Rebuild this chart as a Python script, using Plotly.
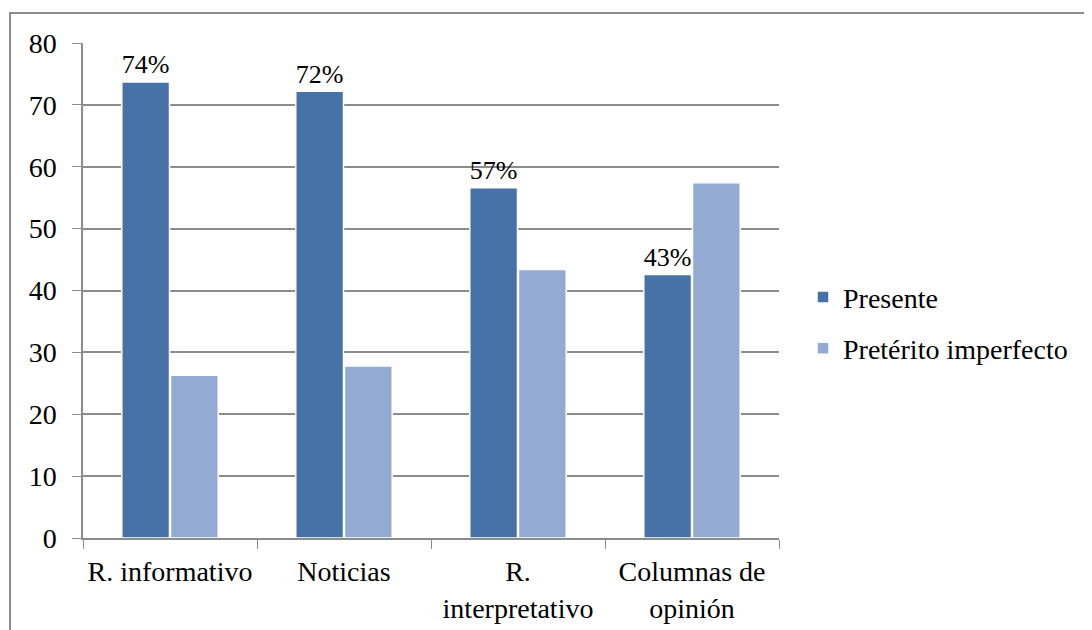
import plotly.graph_objects as go

# categorias y porcentajes
categorias = ["R. informativo", "Noticias", "R.<br>interpretativo", "Columnas de<br>opinión"]
presente = [73.7, 72.2, 56.6, 42.6]
preterito = [26.3, 27.8, 43.4, 57.4]
etiquetas_presente = ["74%", "72%", "57%", "43%"]

fuente = "Liberation Serif"

fig = go.Figure()
fig.add_trace(go.Bar(
    x=categorias, y=presente, name="Presente", legendgroup="a",
    marker=dict(color="#4672a8", line=dict(color="white", width=1.5)),
    text=etiquetas_presente, textposition="outside", cliponaxis=False,
    textfont=dict(family=fuente, size=28, color="black"),
))
fig.add_trace(go.Bar(
    x=categorias, y=preterito, name="Pretérito imperfecto", legendgroup="b",
    marker=dict(color="#93aad2", line=dict(color="white", width=1.5)),
))

# la pagina tiene 8px de margen en el body, se compensa aqui
fig.update_layout(
    width=1092, height=630,
    margin=dict(l=75, r=321, t=35, b=100),
    paper_bgcolor="white", plot_bgcolor="white",
    font=dict(family=fuente, size=28, color="black"),
    barmode="group", bargap=0.44, bargroupgap=0.02,
    showlegend=True,
    legend=dict(x=1.0345, y=0.435, yanchor="middle", xanchor="left",
                font=dict(size=28), traceorder="grouped", tracegroupgap=12),
)
fig.update_xaxes(
    showline=True, linecolor="#8c8c8c", linewidth=1.5,
    ticks="outside", tickson="boundaries", ticklen=9, tickcolor="#8c8c8c",
    showgrid=False, tickfont=dict(size=28), ticklabelstandoff=8,
)
fig.update_yaxes(
    range=[0, 80], dtick=10,
    showline=True, linecolor="#8c8c8c", linewidth=1.5,
    ticks="outside", ticklen=9, tickcolor="#8c8c8c",
    showgrid=True, gridcolor="#8c8c8c", gridwidth=1.5,
    zeroline=False, tickfont=dict(size=28), ticklabelstandoff=10,
)

# marco exterior del grafico
fig.add_shape(type="rect", xref="paper", yref="paper",
              x0=(2 - 75) / 696, x1=1.6, y0=-0.5, y1=(530 - 5) / 495,
              line=dict(color="#8c8c8c", width=2), layer="below")

fig.write_html("out.html")
